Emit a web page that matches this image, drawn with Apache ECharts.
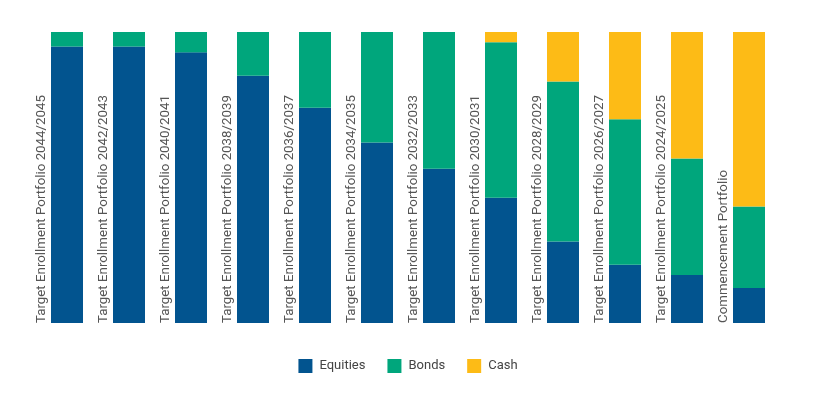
<!DOCTYPE html>
<html>
<head>
<meta charset="utf-8">
<script src="https://cdn.jsdelivr.net/npm/echarts@6/dist/echarts.min.js"></script>
<style>html,body{margin:0;padding:0;background:#fff;}#c{width:816px;height:412px;}</style>
</head>
<body>
<div id="c"></div>
<script>
const categories = [
  "Target Enrollment Portfolio 2044/2045",
  "Target Enrollment Portfolio 2042/2043",
  "Target Enrollment Portfolio 2040/2041",
  "Target Enrollment Portfolio 2038/2039",
  "Target Enrollment Portfolio 2036/2037",
  "Target Enrollment Portfolio 2034/2035",
  "Target Enrollment Portfolio 2032/2033",
  "Target Enrollment Portfolio 2030/2031",
  "Target Enrollment Portfolio 2028/2029",
  "Target Enrollment Portfolio 2026/2027",
  "Target Enrollment Portfolio 2024/2025",
  "Commencement Portfolio"
];
const equities = [95, 95, 93, 85, 74, 62, 53, 43, 28, 20, 16.5, 12];
const bonds    = [5, 5, 7, 15, 26, 38, 47, 53.5, 55, 50, 40, 28];
const cash     = [0, 0, 0, 0, 0, 0, 0, 3.5, 17, 30, 43.5, 60];

const chart = echarts.init(document.getElementById('c'), null, {renderer: 'canvas'});
const font = 'Roboto, "Noto Sans", sans-serif';
chart.setOption({
  animation: false,
  textStyle: {fontFamily: font},
  grid: {left: 36, right: 36, top: 32, height: 291, containLabel: false},
  xAxis: {
    type: 'category', data: categories,
    axisLine: {show: false}, axisTick: {show: false}, axisLabel: {show: false}, splitLine: {show: false}
  },
  yAxis: {type: 'value', min: 0, max: 100, show: false, splitLine: {show: false}},
  legend: {
    bottom: 34, left: 'center', itemWidth: 14, itemHeight: 14, itemGap: 22,
    icon: 'rect',
    textStyle: {color: '#444', fontSize: 13, fontFamily: font, padding: [0, 0, 0, 2]},
    data: ['Equities', 'Bonds', 'Cash']
  },
  series: [
    {
      name: 'Equities', type: 'bar', stack: 'a', data: equities, barWidth: 32,
      itemStyle: {color: '#02548F'},
      label: {
        show: true, position: [-3, '100%'], rotate: 90, align: 'left', verticalAlign: 'bottom',
        color: '#555', fontSize: 13.3, fontFamily: font,
        formatter: p => p.name
      }
    },
    {name: 'Bonds', type: 'bar', stack: 'a', data: bonds, barWidth: 32, itemStyle: {color: '#00A67C'}},
    {name: 'Cash', type: 'bar', stack: 'a', data: cash, barWidth: 32, itemStyle: {color: '#FDBB16'}}
  ]
});
</script>
</body>
</html>
